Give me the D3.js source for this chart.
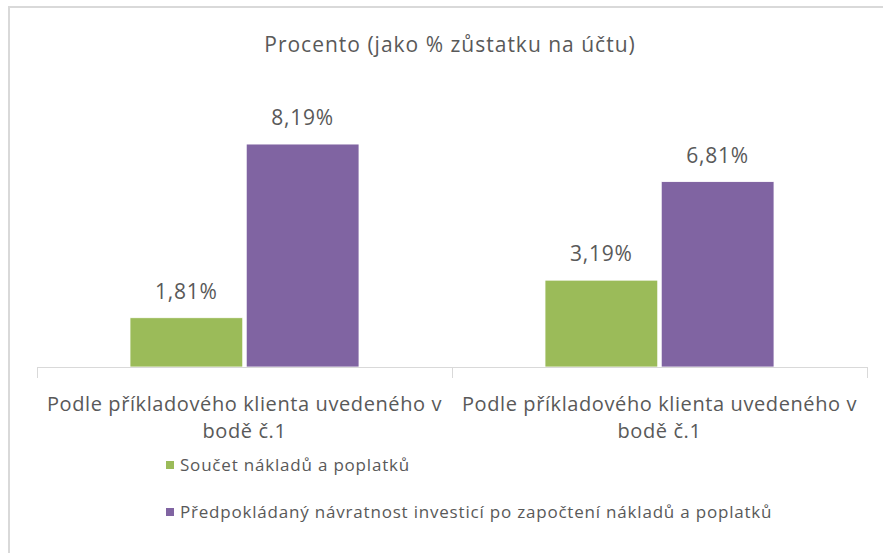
<!DOCTYPE html>
<html><head><meta charset="utf-8">
<script src="https://cdn.jsdelivr.net/npm/d3@7"></script>
<style>
html,body{margin:0;padding:0;background:#fff;}
svg{display:block;font-family:"Open Sans",sans-serif;}
</style></head>
<body><svg id="c" width="883" height="553"></svg>
<script>
const categories = ["Podle příkladového klienta uvedeného v bodě č.1", "Podle příkladového klienta uvedeného v bodě č.1"];
const categoryLines = [["Podle příkladového klienta uvedeného v", "bodě č.1"], ["Podle příkladového klienta uvedeného v", "bodě č.1"]];
const seriesNames = ["Součet nákladů a poplatků", "Předpokládaný návratnost investicí po započtení nákladů a poplatků"];
const costs = [1.81, 3.19];
const returns = [8.19, 6.81];
const seriesColors = ["#9BBB59", "#8064A2"];
const title = "Procento (jako % zůstatku na účtu)";

const svg = d3.select("#c");
const textColor = "#595959";

// frame
svg.append("path").attr("d", "M9,553 V7 H883").attr("fill", "none").attr("stroke", "#d9d9d9").attr("stroke-width", 2);

svg.append("text").attr("x", 450).attr("y", 52).attr("text-anchor", "middle")
  .attr("fill", textColor).attr("font-size", 21).attr("letter-spacing", 1).text(title);

const idx = d3.range(categories.length);
const x0 = d3.scaleBand().domain(idx).range([37, 867]).padding(0);
const x1 = d3.scaleBand().domain([0, 1]).range([0, x0.bandwidth()]).paddingInner(0.03).paddingOuter(0.8);
const y = d3.scaleLinear().domain([0, 9]).range([367, 122]);
const values = [costs, returns];

const g = svg.append("g");
idx.forEach(i => {
  [0, 1].forEach(s => {
    const v = values[s][i];
    const bx = x0(i) + x1(s);
    g.append("rect").attr("x", bx).attr("y", y(v)).attr("width", x1.bandwidth()).attr("height", y(0) - y(v))
      .attr("fill", seriesColors[s]).attr("stroke", "#fff").attr("stroke-width", 0.8);
    g.append("text").attr("x", bx + x1.bandwidth() / 2).attr("y", y(v) - 19)
      .attr("text-anchor", "middle").attr("fill", textColor).attr("font-size", 21).attr("letter-spacing", 0.8)
      .text(v.toFixed(2).replace(".", ",") + "%");
  });
});

// axis line and boundary ticks
const axisColor = "#d9d9d9";
svg.append("line").attr("x1", x0.range()[0]).attr("x2", x0.range()[1]).attr("y1", y(0) + 0.5).attr("y2", y(0) + 0.5)
  .attr("stroke", axisColor).attr("stroke-width", 1);
const tickXs = idx.map(i => x0(i)).concat([x0.range()[1]]);
tickXs.forEach(tx => {
  svg.append("line").attr("x1", tx + 0.5).attr("x2", tx + 0.5).attr("y1", y(0)).attr("y2", y(0) + 11)
    .attr("stroke", axisColor).attr("stroke-width", 1);
});

idx.forEach(i => {
  const cx = x0(i) + x0.bandwidth() / 2;
  categoryLines[i].forEach((ln, k) => {
    svg.append("text").attr("x", cx).attr("y", 411 + k * 27).attr("text-anchor", "middle")
      .attr("fill", textColor).attr("font-size", 20).attr("letter-spacing", 0.6).text(ln);
  });
});

// legend
seriesNames.forEach((nm, s) => {
  const ly = 465 + s * 47;
  svg.append("rect").attr("x", 166).attr("y", ly - 4).attr("width", 8).attr("height", 8).attr("fill", seriesColors[s]);
  svg.append("text").attr("x", 180).attr("y", ly).attr("dy", "0.35em").attr("fill", textColor)
    .attr("font-size", 17).attr("letter-spacing", 0.8).text(nm);
});
</script></body></html>
